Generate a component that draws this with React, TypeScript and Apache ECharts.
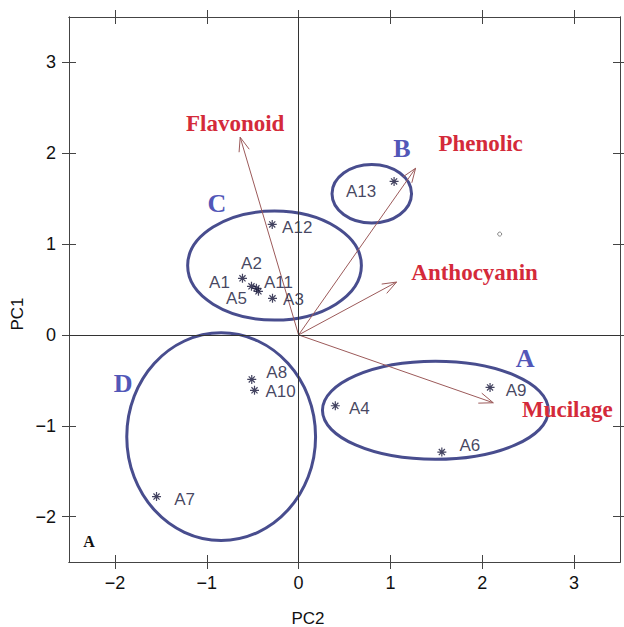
import React, { useEffect, useRef } from "react";
import * as echarts from "echarts";

const sampleNames = ["A1", "A2", "A3", "A4", "A5", "A6", "A7", "A8", "A9", "A10", "A11", "A12", "A13"];
const samplePC2 = [-0.513, -0.611, -0.284, 0.4, -0.437, 1.56, -1.547, -0.51, 2.085, -0.48, -0.459, -0.287, 1.04];
const samplePC1 = [0.535, 0.623, 0.403, -0.78, 0.48, -1.29, -1.78, -0.49, -0.578, -0.61, 0.513, 1.216, 1.69];
const sampleLabelOffset = [
  [-32, -4], [9, -15], [21, 1], [24, 3], [-22, 7], [28, -7], [28, 3],
  [25, -7], [26, 3], [26, 1], [22, -6], [25, 3], [-33, 10],
];

const variableNames = ["Flavonoid", "Phenolic", "Anthocyanin", "Mucilage"];
const loadingPC2 = [-0.636, 1.274, 1.067, 2.12];
const loadingPC1 = [2.176, 1.835, 0.582, -0.747];
const variableLabelOffset = [[-5, -14], [65, -25], [78, -10], [74, 7]];

const groupNames = ["A", "B", "C", "D"];
const groupCenterPC2 = [1.49, 0.797, -0.262, -0.843];
const groupCenterPC1 = [-0.83, 1.554, 0.763, -1.12];
const groupRadiusPC2 = [1.23, 0.433, 0.946, 1.028];
const groupRadiusPC1 = [0.54, 0.322, 0.6, 1.143];
const groupLabelPC2 = [2.467, 1.124, -0.89, -1.91];
const groupLabelPC1 = [-0.255, 2.057, 1.447, -0.53];

const markerPC2 = [2.19];
const markerPC1 = [1.11];

const tickValues = [-2, -1, 0, 1, 2, 3];

const AXIS_COLOR = "#444";
const ELLIPSE_COLOR = "#484d8e";
const GROUP_COLOR = "#5257b8";
const RED = "#d42a3a";
const ARROW_COLOR = "#9c5a5a";
const POINT_COLOR = "#141438";

const fmt = (v: number) => (v < 0 ? "\u2212" + Math.abs(v) : String(v));

function makeAxis(kind: "x" | "y", position: string, inside: boolean, labels: boolean) {
  return {
    type: "value",
    gridIndex: 0,
    position,
    min: -2.5,
    max: 3.5,
    axisLine: { show: true, onZero: false, lineStyle: { color: AXIS_COLOR, width: 1 } },
    axisTick: {
      show: true,
      inside,
      length: 7,
      customValues: tickValues,
      lineStyle: { color: AXIS_COLOR, width: 1 },
    },
    axisLabel: {
      show: labels,
      customValues: tickValues,
      formatter: fmt,
      fontFamily: "Liberation Sans",
      fontSize: 18,
      color: "#111",
      margin: kind === "x" ? 12 : 13,
    },
    splitLine: { show: false },
  };
}

export default function App() {
  const ref = useRef<HTMLDivElement>(null);
  useEffect(() => {
    document.body.style.margin = "0";
    if (!ref.current) return;
    const chart = echarts.init(ref.current, undefined, { renderer: "svg" });

    const starPath = "path://M5 0V10M0 5H10M1.6 1.6L8.4 8.4M1.6 8.4L8.4 1.6";

    const option = {
      animation: false,
      backgroundColor: "#fff",
      grid: { left: 69, top: 17, right: 4, bottom: 65 },
      xAxis: [
        makeAxis("x", "bottom", false, true),
        makeAxis("x", "bottom", true, false),
        makeAxis("x", "top", false, false),
        makeAxis("x", "top", true, false),
      ],
      yAxis: [
        makeAxis("y", "left", false, true),
        makeAxis("y", "left", true, false),
        makeAxis("y", "right", false, false),
        makeAxis("y", "right", true, false),
      ],
      graphic: [
        {
          type: "text",
          x: 17,
          y: 314,
          rotation: Math.PI / 2,
          style: {
            text: "PC1",
            fill: "#111",
            fontFamily: "Liberation Sans",
            fontSize: 17,
            align: "center",
            verticalAlign: "middle",
          },
        },
        {
          type: "text",
          x: 308,
          y: 618,
          style: {
            text: "PC2",
            fill: "#111",
            fontFamily: "Liberation Sans",
            fontSize: 17,
            align: "center",
            verticalAlign: "middle",
          },
        },
        {
          type: "text",
          x: 89,
          y: 541,
          style: {
            text: "A",
            fill: "#111",
            fontFamily: "Liberation Serif",
            fontWeight: "bold",
            fontSize: 16,
            align: "center",
            verticalAlign: "middle",
          },
        },
      ],
      series: [
        {
          type: "custom",
          name: "groups",
          xAxisIndex: 0,
          yAxisIndex: 0,
          silent: true,
          data: groupNames.map((n, i) => [
            groupCenterPC2[i], groupCenterPC1[i], groupRadiusPC2[i], groupRadiusPC1[i],
            groupLabelPC2[i], groupLabelPC1[i],
          ]),
          encode: { x: 0, y: 1 },
          renderItem: (params: any, api: any) => {
            const i = params.dataIndex;
            const c = api.coord([api.value(0), api.value(1)]);
            const s = api.size([api.value(2), api.value(3)]);
            const lp = api.coord([api.value(4), api.value(5)]);
            return {
              type: "group",
              children: [
                {
                  type: "ellipse",
                  shape: { cx: c[0], cy: c[1], rx: s[0], ry: s[1] },
                  style: { fill: "none", stroke: ELLIPSE_COLOR, lineWidth: 3 },
                },
                {
                  type: "text",
                  x: lp[0],
                  y: lp[1],
                  style: {
                    text: groupNames[i],
                    fill: GROUP_COLOR,
                    fontFamily: "Liberation Serif",
                    fontWeight: "bold",
                    fontSize: 26,
                    align: "center",
                    verticalAlign: "middle",
                  },
                },
              ],
            };
          },
        },
        {
          type: "custom",
          name: "loadings",
          xAxisIndex: 0,
          yAxisIndex: 0,
          silent: true,
          data: variableNames.map((n, i) => [loadingPC2[i], loadingPC1[i]]),
          encode: { x: 0, y: 1 },
          renderItem: (params: any, api: any) => {
            const i = params.dataIndex;
            const o = api.coord([0, 0]);
            const t = api.coord([api.value(0), api.value(1)]);
            const ang = Math.atan2(t[1] - o[1], t[0] - o[0]);
            const hl = 15;
            const sp = 0.36;
            const p1 = [t[0] - hl * Math.cos(ang - sp), t[1] - hl * Math.sin(ang - sp)];
            const p2 = [t[0] - hl * Math.cos(ang + sp), t[1] - hl * Math.sin(ang + sp)];
            const off = variableLabelOffset[i];
            return {
              type: "group",
              children: [
                {
                  type: "line",
                  shape: { x1: o[0], y1: o[1], x2: t[0], y2: t[1] },
                  style: { stroke: ARROW_COLOR, lineWidth: 1 },
                },
                {
                  type: "polyline",
                  shape: { points: [p1, t, p2] },
                  style: { stroke: ARROW_COLOR, lineWidth: 1, fill: "none" },
                },
                {
                  type: "text",
                  x: t[0] + off[0],
                  y: t[1] + off[1],
                  style: {
                    text: variableNames[i],
                    fill: RED,
                    fontFamily: "Liberation Serif",
                    fontWeight: "bold",
                    fontSize: 23,
                    align: "center",
                    verticalAlign: "middle",
                  },
                },
              ],
            };
          },
        },
        {
          type: "scatter",
          name: "marker",
          xAxisIndex: 0,
          yAxisIndex: 0,
          silent: true,
          symbol: "circle",
          symbolSize: 4,
          itemStyle: { color: "transparent", borderColor: "#666", borderWidth: 1 },
          data: markerPC2.map((x, i) => [x, markerPC1[i]]),
          markLine: {
            silent: true,
            symbol: "none",
            label: { show: false },
            lineStyle: { color: "#333", width: 1, type: "solid" },
            data: [{ xAxis: 0 }, { yAxis: 0 }],
          },
        },
        {
          type: "scatter",
          name: "samples",
          xAxisIndex: 0,
          yAxisIndex: 0,
          silent: true,
          symbol: starPath,
          symbolSize: 9,
          itemStyle: { color: "transparent", borderColor: POINT_COLOR, borderWidth: 1.2 },
          data: sampleNames.map((n, i) => ({
            name: n,
            value: [samplePC2[i], samplePC1[i]],
            label: {
              show: true,
              position: "inside",
              offset: sampleLabelOffset[i],
              formatter: n,
              color: POINT_COLOR,
              fontFamily: "Liberation Sans",
              fontSize: 17,
            },
          })),
        },
      ],
    };
    chart.setOption(option as any);
    return () => chart.dispose();
  }, []);
  return <div ref={ref} style={{ width: 624, height: 627 }} />;
}
